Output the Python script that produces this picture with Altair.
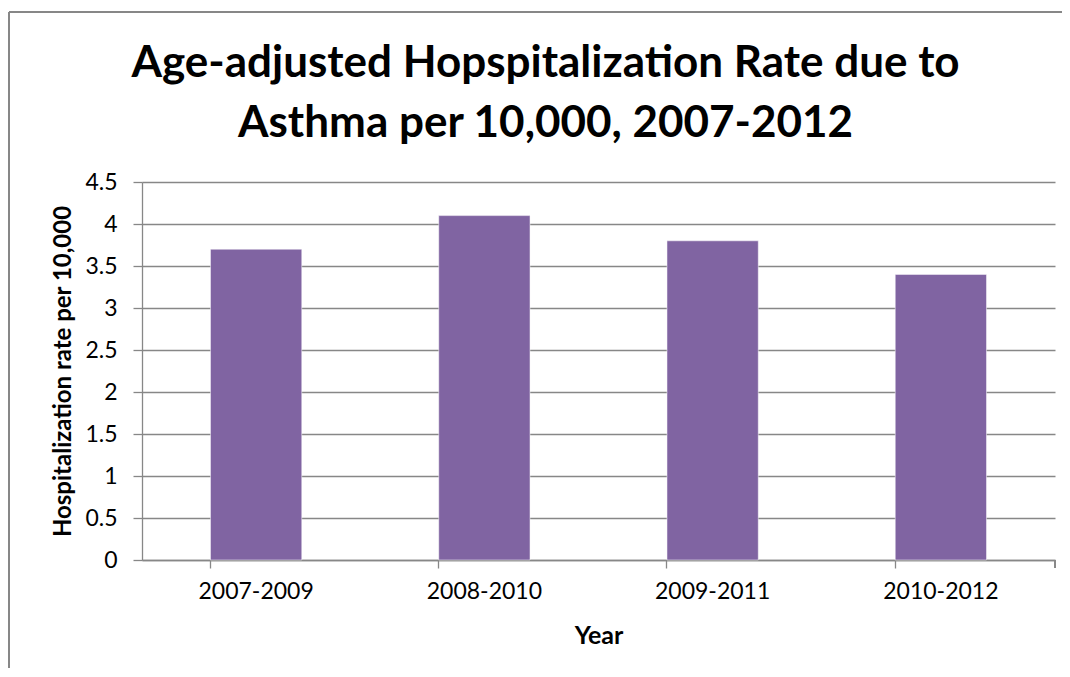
import altair as alt
import pandas as pd

periods = ["2007-2009", "2008-2010", "2009-2011", "2010-2012"]
rates = [3.7, 4.1, 3.8, 3.4]

df = pd.DataFrame({"Year": periods, "Rate": rates})

W, H = 913, 378
PAD = {"left": 134, "top": 174, "right": 7, "bottom": 108}
FONT = "Lato"
GRAY = "#878787"

bars = alt.Chart(df).mark_bar(color="#8064A2", stroke="#ffffff", strokeWidth=0.5).encode(
    x=alt.X("Year:N", sort=periods,
            scale=alt.Scale(paddingInner=0.6, paddingOuter=0.3),
            axis=alt.Axis(title="Year", labelAngle=0, bandPosition=0, tickSize=8,
                          labelPadding=12, titlePadding=20, titleFontSize=25)),
    y=alt.Y("Rate:Q", scale=alt.Scale(domain=[0, 4.5], nice=False),
            axis=alt.Axis(title="Hospitalization rate per 10,000", values=[0, 0.5, 1, 1.5, 2, 2.5, 3, 3.5, 4, 4.5],
                          format="~g", tickSize=9, labelPadding=16, titlePadding=9)),
)

end_tick = alt.Chart(df).mark_rule(color=GRAY, strokeWidth=1.3).encode(
    x=alt.value(W), y=alt.value(H), y2=alt.value(H + 8)
)
frame_left = alt.Chart(df).mark_rule(color=GRAY, strokeWidth=1.5, clip=False).encode(
    x=alt.value(-133), y=alt.value(-170), y2=alt.value(H + PAD["bottom"])
)
frame_top = alt.Chart(df).mark_rule(color=GRAY, strokeWidth=1.5, clip=False).encode(
    x=alt.value(-133), x2=alt.value(W + PAD["right"]), y=alt.value(-170)
)

chart = alt.layer(frame_left, frame_top, bars, end_tick).properties(
    width=W, height=H,
    autosize=alt.AutoSizeParams(type="none"),
    padding=PAD,
    title=alt.Title(["Age-adjusted Hopspitalization Rate due to", "Asthma per 10,000, 2007-2012"],
                    anchor="middle", frame="group", dx=-53, dy=135, offset=0,
                    fontSize=44, font=FONT, fontWeight="bold", color="#000000", lineHeight=60),
).configure_view(stroke=None).configure_axis(
    labelFont=FONT, labelFontSize=23, labelColor="#000000",
    titleFont=FONT, titleFontSize=24, titleFontWeight="bold", titleColor="#000000",
    domainColor=GRAY, tickColor=GRAY, gridColor=GRAY, domainWidth=1.3, tickWidth=1.3, gridWidth=1.3,
).configure_axisX(grid=False).configure_axisY(grid=True)

chart.save("out.html", embed_options={"renderer": "svg", "actions": False})
